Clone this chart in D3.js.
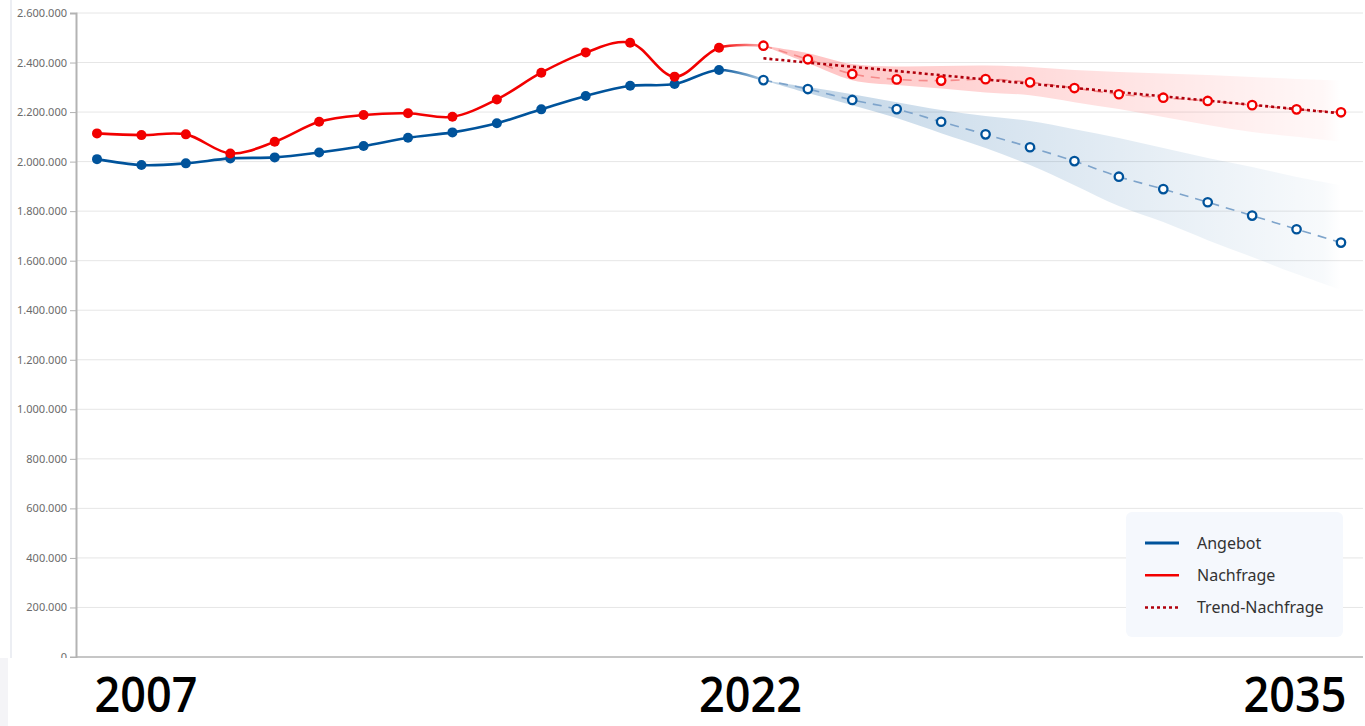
<!DOCTYPE html>
<html>
<head>
<meta charset="utf-8">
<script src="https://cdn.jsdelivr.net/npm/d3@7/dist/d3.min.js"></script>
<style>
  html, body { margin: 0; padding: 0; background: #fff; }
  svg { display: block; }
</style>
</head>
<body>
<svg id="chart" width="1365" height="726"></svg>
<script>
// ---------- DATA ----------
const histYears = [2007,2008,2009,2010,2011,2012,2013,2014,2015,2016,2017,2018,2019,2020,2021,2022];
const angebot   = [2010000,1986000,1993000,2013000,2017000,2037000,2063000,2096000,2118000,2155000,2211000,2265000,2306000,2313000,2370000,2329000];
const nachfrage = [2114000,2107000,2110000,2033000,2080000,2161000,2188000,2195000,2181000,2251000,2359000,2441000,2480000,2343000,2460000,2468000];

const progYears = [2022,2023,2024,2025,2026,2027,2028,2029,2030,2031,2032,2033,2034,2035];
const angebotProg   = [2329000,2293000,2249000,2212000,2161000,2110000,2058000,2002000,1939000,1889000,1836000,1782000,1727000,1673000];
const nachfrageProg = [2468000,2413000,2354000,2332000,2327000,2333000,2320000,2297000,2272000,2258000,2245000,2228000,2211000,2199000];

const angebotUpper   = [2329000,2301000,2272000,2240000,2208000,2184000,2164000,2131000,2095000,2055000,2015000,1978000,1938000,1905000];
const angebotLower   = [2329000,2277000,2228000,2176000,2115000,2055000,1986000,1905000,1821000,1756000,1683000,1615000,1546000,1482000];
const nachfrageUpper = [2468000,2438000,2394000,2384000,2386000,2388000,2382000,2370000,2362000,2356000,2350000,2342000,2334000,2328000];
const nachfrageLower = [2468000,2398000,2329000,2309000,2295000,2279000,2268000,2240000,2212000,2180000,2148000,2120000,2100000,2080000];

const trendYears  = [2022, 2035];
const trendValues = [2417000, 2195000];

const yTicks = [0,200000,400000,600000,800000,1000000,1200000,1400000,1600000,1800000,2000000,2200000,2400000,2600000];
const yearLabels = [2007, 2022, 2035];
const legendItems = ["Angebot", "Nachfrage", "Trend-Nachfrage"];

// ---------- SETUP ----------
const BLUE = "#00539b", RED = "#f20000", DARKRED = "#b0000c";
const svg = d3.select("#chart");
const x = d3.scaleLinear().domain([2007, 2035]).range([97, 1341]);
const y = d3.scaleLinear().domain([0, 2600000]).range([657, 13]);
const de = d3.formatLocale({decimal: ",", thousands: ".", grouping: [3], currency: ["", "€"]});
const fmt = de.format(",");
const defs = svg.append("defs");

// left decorative strip
svg.append("line").attr("x1", 11).attr("x2", 11).attr("y1", 0).attr("y2", 658)
  .attr("stroke", "#e6e8ef").attr("stroke-width", 1.5);

// grid
svg.append("g").selectAll("line").data(yTicks.filter(d => d > 0)).join("line")
  .attr("x1", 76).attr("x2", 1363)
  .attr("y1", d => y(d)).attr("y2", d => y(d))
  .attr("stroke", "#e6e6e6").attr("stroke-width", 1);

// y axis
const yAxis = d3.axisLeft(y).tickValues(yTicks).tickFormat(fmt).tickSize(6).tickPadding(3);
const gy = svg.append("g").attr("transform", "translate(76,0)").call(yAxis);
gy.select(".domain").attr("stroke", "#b3b3b3").attr("stroke-width", 2);
gy.selectAll(".tick line").attr("stroke", "#b3b3b3").attr("stroke-width", 1);
gy.selectAll(".tick text").attr("fill", "#6b6b6b").style("font-family", "'Noto Sans', sans-serif").style("font-size", "11px");

// x axis line
const xAxis = d3.axisBottom(x).tickValues([]).tickSize(0);
const gx = svg.append("g").attr("transform", "translate(0,657)").call(xAxis);
gx.select(".domain").attr("d", "M76,0H1363").attr("stroke", "#b3b3b3").attr("stroke-width", 1.5);

// gradients for bands
function bandGrad(id, color, a0, a1) {
  const g = defs.append("linearGradient").attr("id", id)
    .attr("gradientUnits", "userSpaceOnUse")
    .attr("x1", x(2022)).attr("x2", x(2035)).attr("y1", 0).attr("y2", 0);
  g.append("stop").attr("offset", 0).attr("stop-color", color).attr("stop-opacity", a0);
  g.append("stop").attr("offset", 0.97).attr("stop-color", color).attr("stop-opacity", a1);
  g.append("stop").attr("offset", 1).attr("stop-color", color).attr("stop-opacity", 0);
}
bandGrad("gBlue", BLUE, 0.25, 0.03);
bandGrad("gRed", "#ff0000", 0.25, 0.03);

function lineGrad(id, color) {
  const g = defs.append("linearGradient").attr("id", id)
    .attr("gradientUnits", "userSpaceOnUse")
    .attr("x1", x(2007)).attr("x2", x(2022)).attr("y1", 0).attr("y2", 0);
  g.append("stop").attr("offset", 0).attr("stop-color", color).attr("stop-opacity", 1);
  g.append("stop").attr("offset", 14/15).attr("stop-color", color).attr("stop-opacity", 1);
  g.append("stop").attr("offset", 1).attr("stop-color", color).attr("stop-opacity", 0.3);
}
lineGrad("lBlue", BLUE);
lineGrad("lRed", RED);

const curve = d3.curveCatmullRom.alpha(0.5);

// bands
const area = d3.area().curve(curve).x(d => x(d.yr)).y0(d => y(d.lo)).y1(d => y(d.hi));
const blueBand = progYears.map((yr, i) => ({yr, lo: angebotLower[i], hi: angebotUpper[i]}));
const redBand  = progYears.map((yr, i) => ({yr, lo: nachfrageLower[i], hi: nachfrageUpper[i]}));
svg.append("path").datum(blueBand).attr("d", area).attr("fill", "url(#gBlue)");
svg.append("path").datum(redBand).attr("d", area).attr("fill", "url(#gRed)");

const line = d3.line().curve(curve).x(d => x(d[0])).y(d => y(d[1]));

// forecast dashed lines
svg.append("path").datum(progYears.map((yr, i) => [yr, angebotProg[i]])).attr("d", line)
  .attr("fill", "none").attr("stroke", "#7ea4cb").attr("stroke-width", 1.6).attr("stroke-dasharray", "9,7");
svg.append("path").datum(progYears.map((yr, i) => [yr, nachfrageProg[i]])).attr("d", line)
  .attr("fill", "none").attr("stroke", "#f58a8a").attr("stroke-width", 1.6).attr("stroke-dasharray", "9,7");

// trend
svg.append("path").datum(trendYears.map((yr, i) => [yr, trendValues[i]])).attr("d", d3.line().x(d => x(d[0])).y(d => y(d[1])))
  .attr("fill", "none").attr("stroke", DARKRED).attr("stroke-width", 2.6).attr("stroke-dasharray", "3,3");

// historical lines
svg.append("path").datum(histYears.map((yr, i) => [yr, angebot[i]])).attr("d", line)
  .attr("fill", "none").attr("stroke", "url(#lBlue)").attr("stroke-width", 2.6);
svg.append("path").datum(histYears.map((yr, i) => [yr, nachfrage[i]])).attr("d", line)
  .attr("fill", "none").attr("stroke", "url(#lRed)").attr("stroke-width", 2.6);

// historical markers (filled)
const histPts = histYears.slice(0, -1);
svg.append("g").selectAll("circle").data(histPts).join("circle")
  .attr("cx", d => x(d)).attr("cy", (d, i) => y(angebot[i])).attr("r", 5).attr("fill", BLUE);
svg.append("g").selectAll("circle").data(histPts).join("circle")
  .attr("cx", d => x(d)).attr("cy", (d, i) => y(nachfrage[i])).attr("r", 5).attr("fill", RED);

// forecast markers (hollow)
svg.append("g").selectAll("circle").data(progYears).join("circle")
  .attr("cx", d => x(d)).attr("cy", (d, i) => y(angebotProg[i])).attr("r", 4.2)
  .attr("fill", "#fff").attr("stroke", BLUE).attr("stroke-width", 2.3);
svg.append("g").selectAll("circle").data(progYears).join("circle")
  .attr("cx", d => x(d)).attr("cy", (d, i) => y(nachfrageProg[i])).attr("r", 4.2)
  .attr("fill", "#fff").attr("stroke", RED).attr("stroke-width", 2.3);

// legend
const lg = svg.append("g");
lg.append("rect").attr("x", 1126).attr("y", 512).attr("width", 217).attr("height", 125).attr("rx", 6)
  .attr("fill", "#f5f8fd");
const legendStyles = [
  {stroke: BLUE, dash: null, w: 3},
  {stroke: RED, dash: null, w: 2.5},
  {stroke: DARKRED, dash: "3,3", w: 2.5}
];
legendItems.forEach((name, i) => {
  const cy = 543 + i * 32.3;
  lg.append("line").attr("x1", 1145).attr("x2", 1179).attr("y1", cy).attr("y2", cy)
    .attr("stroke", legendStyles[i].stroke).attr("stroke-width", legendStyles[i].w)
    .attr("stroke-dasharray", legendStyles[i].dash);
  lg.append("text").attr("x", 1197).attr("y", cy + 5.5).text(name)
    .attr("fill", "#333").style("font-family", "'Noto Sans', sans-serif").style("font-size", "16px");
});

// bottom cover
svg.append("rect").attr("x", 0).attr("y", 658).attr("width", 8).attr("height", 68).attr("fill", "#f4f4f7");
svg.append("rect").attr("x", 8).attr("y", 658).attr("width", 1357).attr("height", 68).attr("fill", "#fff");

// big year labels
const labelCenters = yearLabels.map(d => x(d) + (d === 2007 ? 49 : d === 2035 ? -46 : -13));
svg.append("g").selectAll("text").data(yearLabels).join("text")
  .attr("transform", (d, i) => `translate(${labelCenters[i]},712) scale(1,1.1)`)
  .attr("text-anchor", "middle")
  .attr("fill", "#000")
  .style("font-family", "'Open Sans', sans-serif").style("font-weight", 600).style("font-size", "45px")
  .text(d => d);
</script>
</body>
</html>
